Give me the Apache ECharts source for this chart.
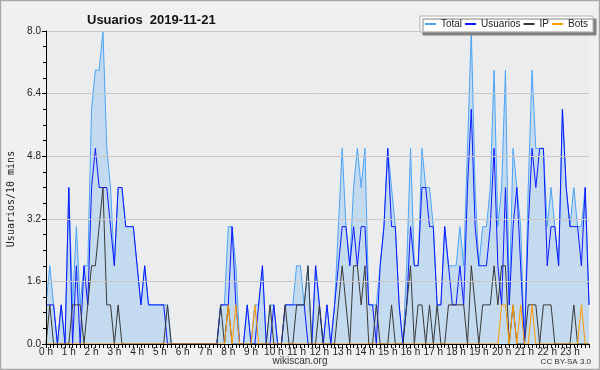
<!DOCTYPE html>
<html>
<head>
<meta charset="utf-8">
<script src="https://cdn.jsdelivr.net/npm/echarts@6/dist/echarts.min.js"></script>
<style>
  html, body { margin: 0; padding: 0; background: #f0f0f0; }
  #chart { width: 600px; height: 370px; }
</style>
</head>
<body>
<div id="chart"></div>
<script>
// etiquetas de hora del eje x
var hourLabels = ['0 h','1 h','2 h','3 h','4 h','5 h','6 h','7 h','8 h','9 h','10 h','11 h',
                  '12 h','13 h','14 h','15 h','16 h','17 h','18 h','19 h','20 h','21 h','22 h','23 h'];
var yTicks = [0, 1.6, 3.2, 4.8, 6.4, 8.0];

// valores por tramo de 10 minutos (144 por día)
var totalData = [
  1,2,1,0,1,0,  4,1,3,1,2,2,  6,7,7,8,5,4,  2,4,4,3,3,3,
  2,1,2,1,1,1,  1,1,1,0,0,0,  0,0,0,0,0,0,  0,0,0,0,1,1,
  3,3,2,0,0,1,  0,1,1,2,0,1,  1,0,0,1,1,1,  2,2,1,2,0,2,
  1,0,1,0,1,3,  5,3,2,4,5,4,  5,1,1,1,2,3,  5,4,3,1,0,2,
  5,2,2,5,4,4,  3,1,1,3,2,2,  2,3,2,5,8,4,  2,3,3,4,7,3,
  4,7,1,5,4,3,  0,4,7,5,5,5,  3,4,3,2,6,4,  3,4,3,3,4,1
];
var usuariosData = [
  1,1,1,0,1,0,  4,0,2,0,2,1,  4,5,4,4,4,3,  2,4,4,3,3,3,
  2,1,2,1,1,1,  1,1,0,0,0,0,  0,0,0,0,0,0,  0,0,0,0,1,1,
  1,3,1,0,0,1,  0,0,1,2,0,0,  1,0,0,1,1,1,  1,1,1,0,0,2,
  1,0,1,0,1,2,  3,3,2,3,2,3,  3,1,1,0,2,3,  5,3,3,1,0,1,
  3,2,2,4,4,3,  3,1,1,3,2,1,  1,2,1,4,6,3,  2,2,2,3,5,2,
  1,4,1,3,4,2,  0,3,5,4,5,5,  2,3,3,2,6,4,  3,3,3,2,4,1
];
var ipData = [
  0,1,0,0,0,0,  0,1,1,1,0,1,  2,2,3,4,1,1,  0,1,0,0,0,0,
  0,0,0,0,0,0,  0,0,1,0,0,0,  0,0,0,0,0,0,  0,0,0,0,1,0,
  1,0,0,0,0,0,  0,0,0,0,0,1,  0,0,0,1,0,0,  1,1,1,2,0,0,
  1,0,0,0,0,1,  2,1,0,2,2,1,  2,0,0,1,0,0,  0,1,0,0,0,1,
  2,0,1,1,0,1,  0,1,0,0,1,1,  1,1,1,0,2,1,  0,1,1,1,2,1,
  2,2,0,1,0,0,  0,1,1,1,0,1,  1,1,0,0,0,0,  0,1,0,0,0,0
];
var botsData = [
  0,0,0,0,0,0,  0,0,0,0,0,0,  0,0,0,0,0,0,  0,0,0,0,0,0,
  0,0,0,0,0,0,  0,0,0,0,0,0,  0,0,0,0,0,0,  0,0,0,0,0,0,
  1,0,1,0,0,0,  0,1,0,0,0,0,  0,0,0,0,0,0,  0,0,0,0,0,0,
  0,0,0,0,0,0,  0,0,0,0,0,0,  0,0,0,0,0,0,  0,0,0,0,0,0,
  0,0,0,0,0,0,  0,0,0,0,0,0,  0,0,0,0,0,0,  0,0,0,0,0,0,
  1,1,0,1,0,1,  0,0,1,0,0,0,  0,0,0,0,0,0,  0,0,0,1,0,0
];

var categories = [];
for (var h = 0; h < 24; h++) {
  for (var m = 0; m < 6; m++) {
    categories.push(h + ':' + m + '0');
  }
}

var font = 'Liberation Sans';
var chart = echarts.init(document.getElementById('chart'));
chart.setOption({
  backgroundColor: '#f0f0f0',
  animation: false,
  textStyle: { fontFamily: font },
  title: {
    text: 'Usuarios  2019-11-21',
    left: 82,
    top: 9,
    textStyle: { fontFamily: font, fontSize: 13, fontWeight: 'bold', color: '#111' }
  },
  legend: {
    right: 7,
    top: 16,
    padding: [3, 5, 3, 4],
    itemGap: 2,
    itemWidth: 11,
    itemHeight: 10,
    backgroundColor: '#ffffff',
    borderColor: '#b0b0b0',
    borderWidth: 1,
    shadowColor: '#808080',
    shadowBlur: 0,
    shadowOffsetX: 3,
    shadowOffsetY: 3,
    itemStyle: { opacity: 0 },
    textStyle: { fontFamily: font, fontSize: 10, color: '#222' },
    data: ['Total', 'Usuarios', 'IP', 'Bots']
  },
  grid: {
    left: 46, right: 11, top: 31, bottom: 26,
    show: true, backgroundColor: '#ebecee', borderWidth: 0
  },
  xAxis: {
    type: 'category',
    data: categories,
    boundaryGap: false,
    z: 5,
    axisLine: { lineStyle: { color: '#000', width: 1 } },
    axisTick: { interval: 0, length: 4, lineStyle: { color: '#000' } },
    axisLabel: {
      interval: 5,
      margin: 3,
      fontSize: 10,
      color: '#222',
      formatter: function (v, i) { return hourLabels[Math.floor(i / 6)]; }
    },
    splitLine: { show: false }
  },
  yAxis: {
    type: 'value',
    min: yTicks[0],
    max: yTicks[yTicks.length - 1],
    interval: 1.6,
    z: 5,
    axisLine: { show: true, lineStyle: { color: '#000', width: 1 } },
    axisTick: { show: true, length: 4, lineStyle: { color: '#000' } },
    minorTick: { show: true, splitNumber: 4, length: 3, lineStyle: { color: '#000' } },
    axisLabel: {
      margin: 5,
      fontSize: 10,
      color: '#222',
      formatter: function (v) { return v.toFixed(1); }
    },
    splitLine: { show: true, lineStyle: { color: '#c8c8c8', width: 1 } }
  },
  series: [
    {
      name: 'Total',
      type: 'line',
      data: totalData,
      symbol: 'none',
      lineStyle: { color: '#4aa3f5', width: 1 },
      itemStyle: { color: '#4aa3f5' },
      areaStyle: { color: '#c4dbef', opacity: 1 }
    },
    {
      name: 'Usuarios',
      type: 'line',
      data: usuariosData,
      symbol: 'none',
      lineStyle: { color: '#0c18ff', width: 1 },
      itemStyle: { color: '#0c18ff' }
    },
    {
      name: 'IP',
      type: 'line',
      data: ipData,
      symbol: 'none',
      lineStyle: { color: '#383838', width: 1 },
      itemStyle: { color: '#383838' }
    },
    {
      name: 'Bots',
      type: 'line',
      data: botsData,
      symbol: 'none',
      lineStyle: { color: '#ff9900', width: 1 },
      itemStyle: { color: '#ff9900' }
    }
  ],
  graphic: [
    {
      type: 'rect',
      shape: { x: 0.5, y: 0.5, width: 599, height: 369 },
      style: { fill: 'none', stroke: '#a8a8a8', lineWidth: 1.5 },
      silent: true
    },
    {
      type: 'text',
      x: 11,
      y: 199,
      rotation: Math.PI / 2,
      style: {
        text: 'Usuarios/10 mins',
        font: '10px "DejaVu Sans Mono"',
        fill: '#222',
        align: 'center',
        verticalAlign: 'middle'
      }
    },
    {
      type: 'text',
      left: 'center',
      top: 356,
      style: { text: 'wikiscan.org', font: '10px ' + font, fill: '#333' }
    },
    {
      type: 'text',
      right: 9,
      top: 358,
      style: { text: 'CC BY-SA 3.0', font: '8px ' + font, fill: '#333' }
    }
  ]
});
</script>
</body>
</html>
